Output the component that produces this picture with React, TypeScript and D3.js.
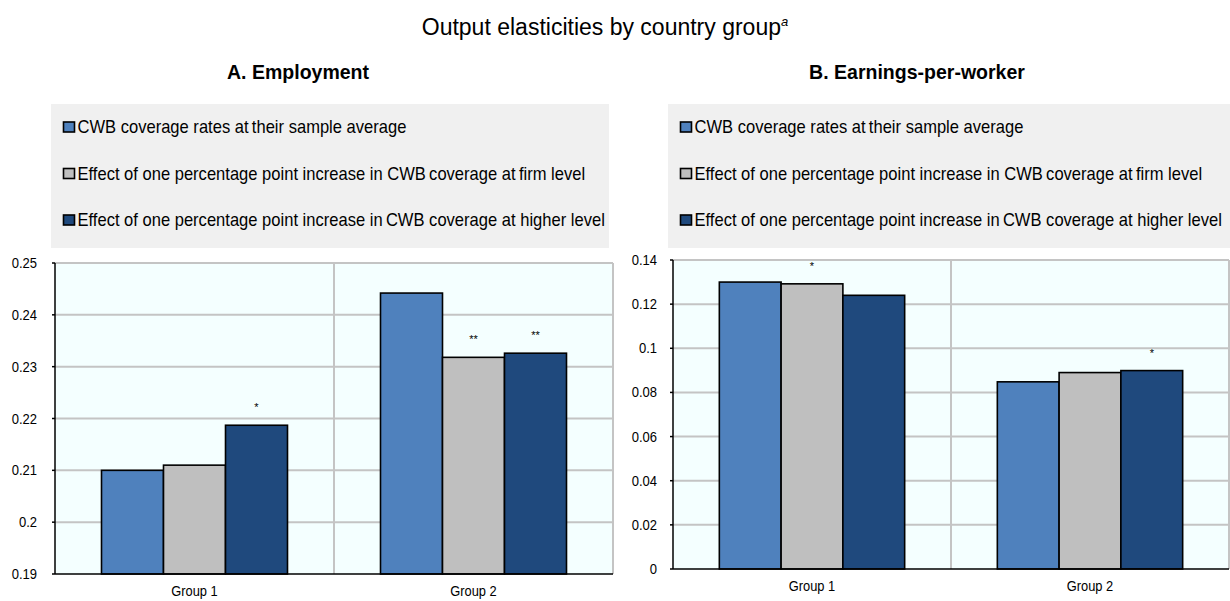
import React from "react";
import * as d3 from "d3";

// Category and series data
const groups = ["Group 1", "Group 2"];
const seriesNames = [
  "CWB coverage rates at\u2009their sample average",
  "Effect of one percentage point increase in CWB\u2009coverage at\u2009firm level",
  "Effect of one percentage point increase in\u2009CWB coverage at higher level",
];
const seriesColors = ["#4f81bd", "#bfbfbf", "#1f497d"];

// Panel A: employment elasticities
const empSampleAvg = [0.21, 0.2442];
const empFirmLevel = [0.211, 0.2318];
const empHigherLevel = [0.2187, 0.2326];
const empStars = [["", "", "*"], ["", "**", "**"]];
const empTicks = [0.19, 0.2, 0.21, 0.22, 0.23, 0.24, 0.25];

// Panel B: earnings-per-worker elasticities
const earnSampleAvg = [0.13, 0.0848];
const earnFirmLevel = [0.1292, 0.089];
const earnHigherLevel = [0.124, 0.0899];
const earnStars = [["", "*", ""], ["", "", "*"]];
const earnTicks = [0, 0.02, 0.04, 0.06, 0.08, 0.1, 0.12, 0.14];

const font = "'Liberation Sans', Arial, Helvetica, sans-serif";

// Slightly condensed text, as in the original narrow typeface
function NText(props: {
  x: number;
  y: number;
  size: number;
  sx?: number;
  anchor?: "start" | "middle" | "end";
  weight?: string;
  children: React.ReactNode;
}) {
  const { x, y, size, sx = 0.92, anchor = "start", weight = "normal", children } = props;
  return (
    <text
      transform={`translate(${x},${y}) scale(${sx},1)`}
      textAnchor={anchor}
      fontFamily={font}
      fontSize={size}
      fontWeight={weight}
      fill="#000"
    >
      {children}
    </text>
  );
}

type PanelProps = {
  title: string;
  titleX: number;
  legend: { x: number; y: number; w: number; h: number };
  plot: { x0: number; x1: number; y0: number; y1: number };
  series: number[][];
  stars: string[][];
  ticks: number[];
  tickX: number;
};

function Panel({ title, titleX, legend, plot, series, stars, ticks, tickX }: PanelProps) {
  const x = d3.scaleBand<string>().domain(groups).range([plot.x0, plot.x1]).padding(0);
  const inner = d3
    .scaleBand<number>()
    .domain(d3.range(series.length))
    .range([0, x.bandwidth()])
    .paddingOuter(0.75)
    .paddingInner(0);
  const y = d3.scaleLinear().domain([ticks[0], ticks[ticks.length - 1]]).range([plot.y1, plot.y0]);
  const fmt = d3.format(".2~f");

  return (
    <g>
      <NText x={titleX} y={79} size={21} sx={0.93} anchor="middle" weight="bold">
        {title}
      </NText>
      {/* legend */}
      <rect x={legend.x} y={legend.y} width={legend.w} height={legend.h} fill="#f0f0f0" />
      {seriesNames.map((name, i) => {
        const cy = legend.y + 23 + i * 46.5;
        return (
          <g key={name}>
            <rect
              x={legend.x + 12.5}
              y={cy - 5}
              width={11}
              height={10}
              fill={seriesColors[i]}
              stroke="#000"
              strokeWidth={1.6}
            />
            <NText x={legend.x + 26.5} y={cy + 6} size={18} sx={0.92}>
              {name}
            </NText>
          </g>
        );
      })}
      {/* plot area */}
      <rect x={plot.x0} y={plot.y0} width={plot.x1 - plot.x0} height={plot.y1 - plot.y0} fill="#f4ffff" />
      {ticks.slice(1).map((t) => (
        <line key={t} x1={plot.x0} x2={plot.x1} y1={y(t)} y2={y(t)} stroke="#c4c4c4" strokeWidth={2} />
      ))}
      {groups.map((g) => (
        <line
          key={g}
          x1={(x(g) as number) + x.bandwidth()}
          x2={(x(g) as number) + x.bandwidth()}
          y1={plot.y0}
          y2={plot.y1}
          stroke="#c4c4c4"
          strokeWidth={2}
        />
      ))}
      {/* bars */}
      {groups.map((g, gi) =>
        series.map((vals, si) => {
          const bx = (x(g) as number) + (inner(si) as number);
          const by = y(vals[gi]);
          return (
            <g key={g + si}>
              <rect
                x={bx}
                y={by}
                width={inner.bandwidth()}
                height={plot.y1 - by}
                fill={seriesColors[si]}
                stroke="#000"
                strokeWidth={1.6}
              />
              {stars[gi][si] && (
                <text
                  x={bx + inner.bandwidth() / 2}
                  y={by - 14}
                  textAnchor="middle"
                  fontFamily={font}
                  fontSize={11}
                  fill="#000"
                >
                  {stars[gi][si]}
                </text>
              )}
            </g>
          );
        })
      )}
      {/* axes */}
      <line x1={plot.x0} x2={plot.x0} y1={plot.y0} y2={plot.y1} stroke="#000" strokeWidth={1.5} />
      <line x1={plot.x0} x2={plot.x1} y1={plot.y1} y2={plot.y1} stroke="#000" strokeWidth={1.5} />
      {ticks.map((t) => (
        <g key={"t" + t}>
          <line x1={plot.x0 - 3} x2={plot.x0} y1={y(t)} y2={y(t)} stroke="#000" strokeWidth={1.5} />
          <NText x={tickX} y={y(t) + 5} size={14} sx={0.93} anchor="end">
            {fmt(t)}
          </NText>
        </g>
      ))}
      {groups.map((g) => (
        <NText key={"c" + g} x={(x(g) as number) + x.bandwidth() / 2} y={plot.y1 + 22} size={14} sx={0.92} anchor="middle">
          {g}
        </NText>
      ))}
    </g>
  );
}

export default function App() {
  return (
    <svg
      width={1230}
      height={601}
      viewBox="0 0 1230 601"
      style={{ position: "absolute", left: 0, top: 0, background: "#fff" }}
    >
      <rect width={1230} height={601} fill="#fff" />
      <text x={605} y={35} textAnchor="middle" fontFamily={font} fontSize={23} fill="#000">
        Output elasticities by country group
        <tspan dy={-9} fontSize={13} fontStyle="italic">a</tspan>
      </text>
      <Panel
        title="A. Employment"
        titleX={298}
        legend={{ x: 51, y: 104, w: 558, h: 144 }}
        plot={{ x0: 55, x1: 613, y0: 263, y1: 574 }}
        series={[empSampleAvg, empFirmLevel, empHigherLevel]}
        stars={empStars}
        ticks={empTicks}
        tickX={37}
      />
      <Panel
        title="B. Earnings-per-worker"
        titleX={917}
        legend={{ x: 668, y: 104, w: 562, h: 144 }}
        plot={{ x0: 673, x1: 1229, y0: 260, y1: 569 }}
        series={[earnSampleAvg, earnFirmLevel, earnHigherLevel]}
        stars={earnStars}
        ticks={earnTicks}
        tickX={657}
      />
    </svg>
  );
}
